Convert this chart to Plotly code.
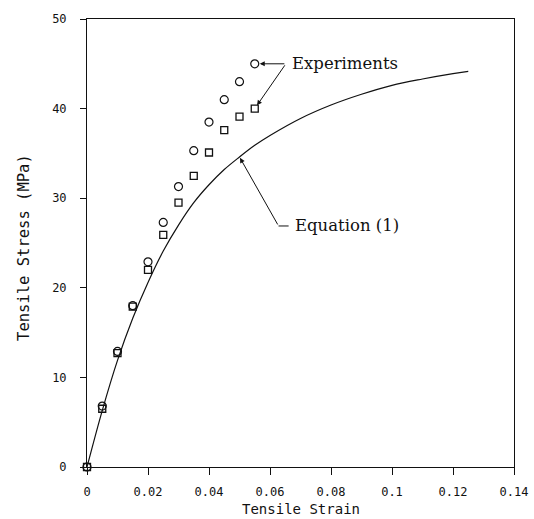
import plotly.graph_objects as go

# Experimental tensile data (two specimens) and the Equation (1) curve
strain_exp = [0.0, 0.005, 0.010, 0.015, 0.020, 0.025, 0.030, 0.035, 0.040, 0.045, 0.050, 0.055]
stress_circ = [0.0, 6.8, 12.9, 18.0, 22.9, 27.3, 31.3, 35.3, 38.5, 41.0, 43.0, 45.0]
stress_sq = [0.0, 6.5, 12.7, 17.9, 22.0, 25.9, 29.5, 32.5, 35.1, 37.6, 39.1, 40.0]

strain_eq = [0.0, 0.005, 0.010, 0.015, 0.020, 0.025, 0.030, 0.035, 0.040, 0.045, 0.050,
             0.055, 0.060, 0.070, 0.080, 0.090, 0.100, 0.110, 0.120, 0.125]
stress_eq = [0.0, 6.3, 11.9, 16.6, 20.6, 24.1, 27.0, 29.5, 31.5, 33.2, 34.6,
             35.9, 37.0, 38.9, 40.4, 41.6, 42.6, 43.3, 43.9, 44.15]

x_ticks = [0, 0.02, 0.04, 0.06, 0.08, 0.10, 0.12, 0.14]
x_ticktext = ["0", "0.02", "0.04", "0.06", "0.08", "0.1", "0.12", "0.14"]
y_ticks = [0, 10, 20, 30, 40, 50]
y_ticktext = ["0", "10", "20", "30", "40", "50"]

INK = "#111111"
MONO = "DejaVu Sans Mono"
SERIF = "DejaVu Serif"

fig = go.Figure()

fig.add_trace(go.Scatter(
    x=strain_eq, y=stress_eq, mode="lines",
    line=dict(color=INK, width=1.2, shape="spline", smoothing=1.0),
    showlegend=False, hoverinfo="skip",
))
fig.add_trace(go.Scatter(
    x=strain_exp, y=stress_sq, mode="markers",
    marker=dict(symbol="square-open", size=7, color=INK, line=dict(width=1.3, color=INK)),
    showlegend=False, cliponaxis=False,
))
fig.add_trace(go.Scatter(
    x=strain_exp, y=stress_circ, mode="markers",
    marker=dict(symbol="circle-open", size=8, color=INK, line=dict(width=1.2, color=INK)),
    showlegend=False, cliponaxis=False,
))

# Leader lines for the labels
exp_join = (0.0652, stress_circ[-1])
eq_join = (0.0628, 26.9)
i_eq = strain_eq.index(0.050)

arrow_style = dict(showarrow=True, arrowhead=2, arrowsize=1, arrowwidth=1,
                   arrowcolor=INK, axref="x", ayref="y", text="")

fig.add_annotation(x=strain_exp[-1], y=stress_circ[-1], ax=exp_join[0], ay=exp_join[1],
                   standoff=5, **arrow_style)
fig.add_annotation(x=strain_exp[-1], y=stress_sq[-1], ax=exp_join[0], ay=exp_join[1],
                   standoff=4, **arrow_style)
fig.add_annotation(x=strain_eq[i_eq], y=stress_eq[i_eq], ax=eq_join[0], ay=eq_join[1],
                   standoff=1, **arrow_style)
fig.add_shape(type="line", x0=eq_join[0], y0=eq_join[1], x1=0.0661, y1=eq_join[1],
              line=dict(color=INK, width=1))

fig.add_annotation(x=0.0667, y=exp_join[1], text="Experiments", showarrow=False,
                   xanchor="left", yanchor="middle", font=dict(family=SERIF, size=16.5, color=INK))
fig.add_annotation(x=0.0677, y=eq_join[1], text="Equation (1)", showarrow=False,
                   xanchor="left", yanchor="middle", font=dict(family=SERIF, size=16.5, color=INK))

# Axis titles
fig.add_annotation(xref="paper", yref="paper", x=0.5, y=0, yshift=-42,
                   xanchor="center", yanchor="middle", showarrow=False,
                   text="Tensile Strain", font=dict(family=MONO, size=14, color=INK))
fig.add_annotation(xref="paper", yref="paper", x=0, y=0.489, xshift=-63,
                   xanchor="center", yanchor="middle", showarrow=False, textangle=-90,
                   text="Tensile Stress (MPa)", font=dict(family=MONO, size=15.5, color=INK))

axis_common = dict(
    showgrid=False, zeroline=False, showline=True, linecolor=INK, linewidth=1,
    mirror=True, ticks="outside", tickcolor=INK, tickwidth=1, automargin=False,
    tickfont=dict(family=MONO, size=12, color=INK),
)

fig.update_xaxes(
    range=[0, 0.14], tickvals=x_ticks, ticktext=x_ticktext, ticklen=7,
    ticklabelstandoff=7, **axis_common,
)
fig.update_yaxes(
    range=[0, 50], tickvals=y_ticks, ticktext=y_ticktext, ticklen=6,
    ticklabelstandoff=11, **axis_common,
)

fig.update_layout(
    width=534, height=519,
    margin=dict(l=87, r=20, t=19, b=52, pad=0),
    paper_bgcolor="white", plot_bgcolor="white",
)

fig.write_html("out.html")
